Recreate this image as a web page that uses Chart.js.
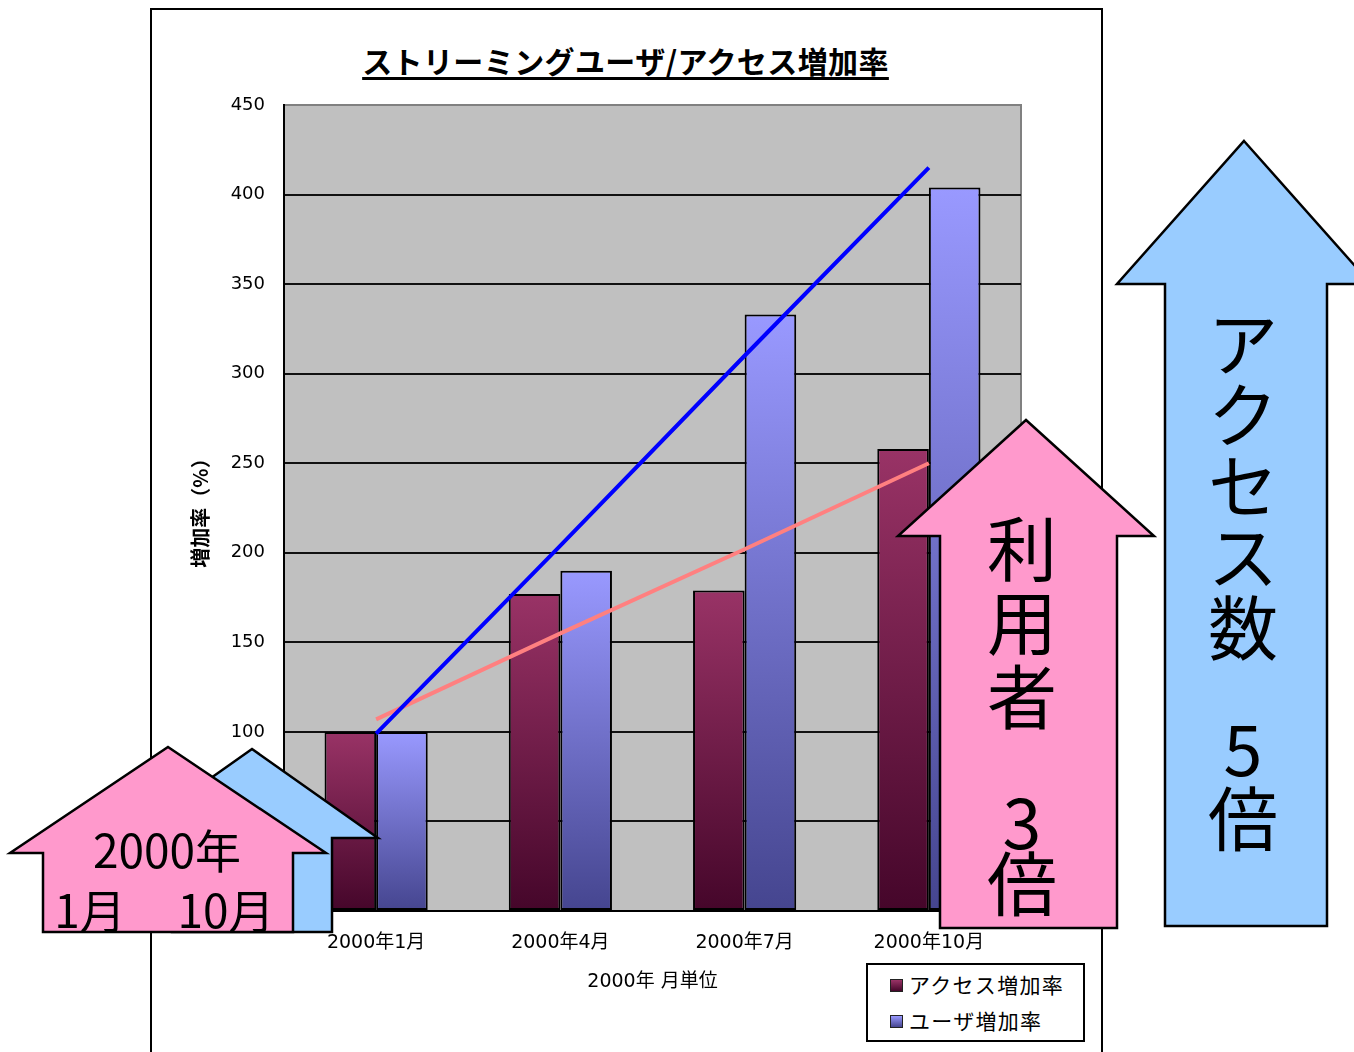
<!DOCTYPE html>
<html>
<head>
<meta charset="utf-8">
<script src="https://cdn.jsdelivr.net/npm/chart.js@4.4.1/dist/chart.umd.min.js"></script>
<style>
  html, body { margin: 0; padding: 0; background: #fff; }
  body { width: 1354px; height: 1052px; position: relative; overflow: hidden; font-family: "Noto Sans CJK JP", sans-serif; }
  #panel { position: absolute; left: 150px; top: 8px; width: 949px; height: 1070px; border: 2px solid #000; background: #fff; }
  #c { position: absolute; left: 0; top: 0; }
  #title { position: absolute; left: 150px; width: 951px; top: 38px; text-align: center; font-size: 30px; letter-spacing: 0.4px; font-weight: bold; text-decoration: underline; text-underline-offset: 4px; color: #000; }
  #legend { position: absolute; left: 866px; top: 963px; width: 215px; height: 75px; border: 2px solid #000; background: #fff; }
  #legend div { position: absolute; left: 22px; font-size: 21px; letter-spacing: 1.3px; line-height: 24px; color: #000; white-space: nowrap; }
  #legend span { display: inline-block; width: 11px; height: 11px; border: 1px solid #222; margin-right: 6px; vertical-align: 1px; }
  #arrows { position: absolute; left: 0; top: 0; }
  #arrows text { font-family: "Noto Sans CJK JP", sans-serif; fill: #000; }
</style>
</head>
<body>
<div id="panel"></div>
<div id="title">ストリーミングユーザ/アクセス増加率</div>
<canvas id="c" width="1354" height="1052"></canvas>
<div id="legend"></div>
<svg id="arrows" width="1354" height="1052"></svg>
<script>
// ---------- データ ----------
var categories = ['2000年1月', '2000年4月', '2000年7月', '2000年10月'];
var accessRate = [100, 177, 179, 258];
var userRate = [100, 190, 333, 404];
var userTrend = [99, 204, 310, 415];
var accessTrend = [107, 155, 202, 250];
var seriesNames = ['アクセス増加率', 'ユーザ増加率'];
var yMin = 0, yMax = 450, yStep = 50;

var FONT = '"DejaVu Sans", "Noto Sans CJK JP", sans-serif';

// 棒ごとの縦グラデーション
function barGradient(top, bottom) {
  return function (ctx) {
    var chart = ctx.chart;
    if (!chart.chartArea || ctx.type !== 'data') return top;
    var y = chart.scales.y;
    var y0 = y.getPixelForValue(0);
    var y1 = y.getPixelForValue(ctx.raw);
    if (!isFinite(y1) || y1 === y0) return top;
    var g = chart.ctx.createLinearGradient(0, y1, 0, y0);
    g.addColorStop(0, top);
    g.addColorStop(1, bottom);
    return g;
  };
}

var plotBg = {
  id: 'plotBg',
  beforeDraw: function (chart) {
    var a = chart.chartArea, c = chart.ctx;
    c.save();
    c.fillStyle = '#c0c0c0';
    c.fillRect(a.left, a.top, a.right - a.left, a.bottom - a.top);
    c.strokeStyle = '#808080';
    c.lineWidth = 2;
    c.strokeRect(a.left, a.top, a.right - a.left, a.bottom - a.top);
    c.restore();
  }
};

var chart = new Chart(document.getElementById('c'), {
  type: 'bar',
  data: {
    labels: categories,
    datasets: [
      { type: 'line', label: 'user trend', data: userTrend, borderColor: '#0000ff', borderWidth: 4, pointRadius: 0, tension: 0, order: 0 },
      { type: 'line', label: 'access trend', data: accessTrend, borderColor: '#ff8080', borderWidth: 4, pointRadius: 0, tension: 0, order: 0 },
      { label: seriesNames[0], data: accessRate, backgroundColor: barGradient('#993366', '#45062a'), borderColor: '#000', borderWidth: 2, borderSkipped: false, order: 1 },
      { label: seriesNames[1], data: userRate, backgroundColor: barGradient('#9999ff', '#45458f'), borderColor: '#000', borderWidth: 2, borderSkipped: false, order: 1 }
    ]
  },
  options: {
    responsive: false,
    animation: false,
    layout: { padding: { left: 180, top: 105, right: 333, bottom: 51 } },
    datasets: { bar: { barPercentage: 1, categoryPercentage: 0.56 } },
    plugins: { legend: { display: false }, tooltip: { enabled: false }, title: { display: false } },
    scales: {
      x: {
        afterFit: function (s) { s.height = 90; },
        grid: { display: false },
        border: { color: '#000', width: 2 },
        ticks: { color: '#000', padding: 13, font: { family: FONT, size: 19 }, maxRotation: 0 },
        title: { display: true, text: '2000年 月単位', color: '#000', padding: { top: 0, bottom: 8 }, font: { family: FONT, size: 19 } }
      },
      y: {
        min: yMin, max: yMax,
        afterFit: function (s) { s.width = 104; },
        grid: {
          drawTicks: false,
          lineWidth: 2,
          color: function (ctx) { return ctx.tick && ctx.tick.value === yMax ? '#808080' : '#111'; }
        },
        border: { color: '#000', width: 2 },
        ticks: { stepSize: yStep, color: '#000', padding: 19, font: { family: FONT, size: 18 } },
        title: { display: true, text: '増加率（%）', color: '#000', padding: { top: 8, bottom: 0 }, font: { family: '"Noto Sans CJK JP", sans-serif', size: 20, weight: 'bold' } }
      }
    }
  },
  plugins: [plotBg]
});

// ---------- 凡例 ----------
var legendEl = document.getElementById('legend');
var legendFill = ['linear-gradient(#993366,#45062a)', 'linear-gradient(#9999ff,#45458f)'];
seriesNames.forEach(function (name, i) {
  var row = document.createElement('div');
  row.style.top = (i === 0 ? 7 : 43) + 'px';
  row.innerHTML = '<span style="background:' + legendFill[i] + '"></span>' + name;
  legendEl.appendChild(row);
});

// ---------- 矢印 ----------
var svg = document.getElementById('arrows');
var NS = 'http://www.w3.org/2000/svg';
function arrow(points, fill) {
  var p = document.createElementNS(NS, 'polygon');
  p.setAttribute('points', points);
  p.setAttribute('fill', fill);
  p.setAttribute('stroke', '#000');
  p.setAttribute('stroke-width', '2.5');
  svg.appendChild(p);
}
function label(txt, x, y, size) {
  var t = document.createElementNS(NS, 'text');
  t.setAttribute('x', x);
  t.setAttribute('y', y);
  t.setAttribute('font-size', size);
  t.setAttribute('text-anchor', 'middle');
  t.setAttribute('dominant-baseline', 'central');
  t.textContent = txt;
  svg.appendChild(t);
}
arrow('1244,141 1371,284 1327,284 1327,926 1165,926 1165,284 1117,284', '#99ccff');
['ア', 'ク', 'セ', 'ス', '数'].forEach(function (ch, i) { label(ch, 1243, 340 + i * 71, 70); });
label('5', 1243, 745, 70);
label('倍', 1243, 815, 70);

arrow('1026,420 1154,536 1117,536 1117,928 940,928 940,536 898,536', '#ff99cc');
['利', '用', '者'].forEach(function (ch, i) { label(ch, 1022, 545 + i * 74, 70); });
label('3', 1022, 818, 70);
label('倍', 1022, 880, 70);

arrow('252,749 378,838 332,838 332,932 172,932 172,838 126,838', '#99ccff');
arrow('168,747 326,853 293,853 293,932 43,932 43,853 10,853', '#ff99cc');
label('2000年', 167, 848, 46);
label('1月', 90, 908, 46);
label('10月', 226, 908, 46);
</script>
</body>
</html>
